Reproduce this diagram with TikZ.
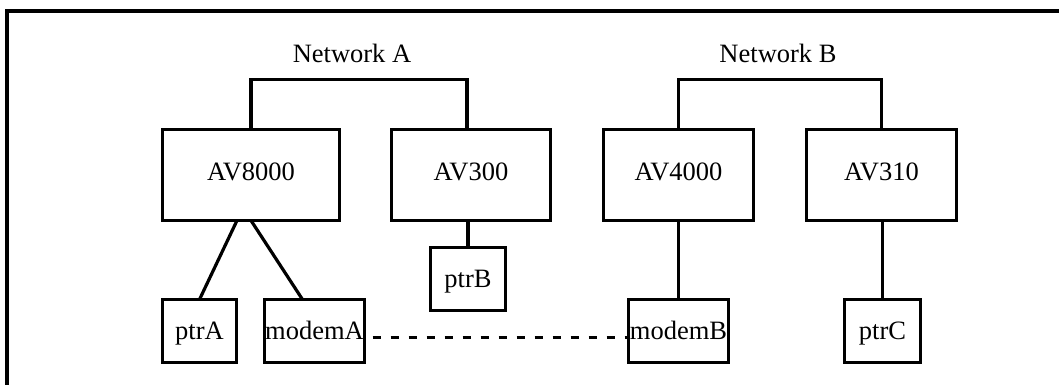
\documentclass[tikz,border=0pt]{standalone}
\usepackage{fontspec}
\setmainfont{Liberation Serif}
\begin{document}
\begin{tikzpicture}[x=1pt,y=-1pt,
  box/.style={draw,line width=3.2pt,inner sep=0pt,outer sep=0pt,text height=17pt,text depth=0pt,
    font=\fontsize{26.5}{30}\selectfont},
  bigbox/.style={box,minimum height=91pt,text depth=6pt},
  smallbox/.style={box,minimum height=63pt},
  netlabel/.style={inner sep=0pt,anchor=base,font=\fontsize{26.5}{30}\selectfont},
  wire/.style={line width=3.2pt},
  link/.style={line width=3pt,dash pattern=on 8pt off 10pt,dash phase=10pt}]
\useasboundingbox (0,0) rectangle (1059,385);
\clip (0,0) rectangle (1059,385);
% frame
\draw[line width=4pt] (7,400) -- (7,11) -- (1070,11);
% labels
\node[netlabel] (neta) at (352,63) {Network A};
\node[netlabel] (netb) at (778,63) {Network B};
% hosts
\node[bigbox,minimum width=177pt] (av8000) at (251,175) {AV8000};
\node[bigbox,minimum width=159pt] (av300) at (471,175) {AV300};
\node[bigbox,minimum width=150pt] (av4000) at (678.5,175) {AV4000};
\node[bigbox,minimum width=150pt] (av310) at (881.5,175) {AV310};
% devices
\node[smallbox,minimum width=74pt] (ptra) at (199.5,331) {ptrA};
\node[smallbox,minimum width=100pt] (modema) at (314.5,331) {modemA};
\node[smallbox,minimum width=75pt] (ptrb) at (468,279) {ptrB};
\node[smallbox,minimum width=100pt] (modemb) at (678.5,331) {modemB};
\node[smallbox,minimum width=76pt] (ptrc) at (882.5,331) {ptrC};
% networks
\draw[wire] (av8000.north) -- ++(0,-50) -| ([xshift=-4pt]av300.north);
\draw[wire] (av4000.north) -- ++(0,-50) -| (av310.north);
% device connections
\draw[wire] ([xshift=-14pt]av8000.south) -- (ptra.north);
\draw[wire] (av8000.south) -- ([xshift=-12pt]modema.north);
\draw[wire] (av300.south -| ptrb.north) -- (ptrb.north);
\draw[wire] (av4000.south) -- (modemb.north);
\draw[wire] (av310.south -| ptrc.north) -- (ptrc.north);
% modem link
\draw[link] ([yshift=-6pt]modema.east) -- ([yshift=-6pt]modemb.west);
\end{tikzpicture}
\end{document}
